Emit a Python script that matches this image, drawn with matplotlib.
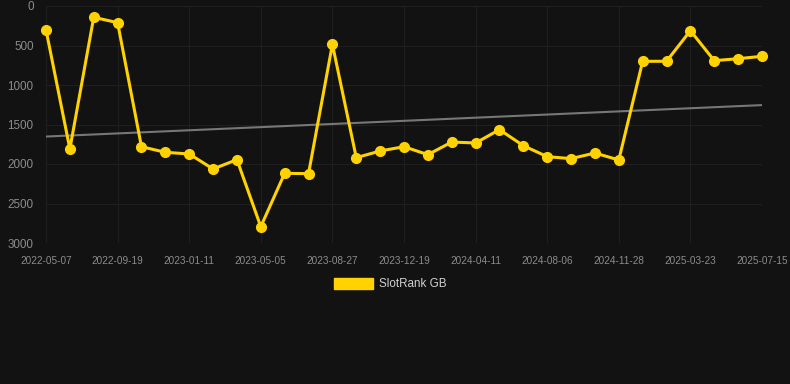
import numpy as np
import matplotlib
matplotlib.use('Agg')
import matplotlib.pyplot as plt
import matplotlib.patches as mpatches

plt.rcParams['font.family'] = ['Liberation Sans', 'DejaVu Sans']

# ranks per sample (31 samples, labels every third one)
ranks = [300, 1810, 143, 211, 1781, 1852, 1873, 2063, 1945, 2793,
         2118, 2122, 485, 1920, 1835, 1781, 1882, 1722, 1734, 1565,
         1768, 1907, 1932, 1861, 1949, 700, 700, 312, 692, 667, 637]
tick_labels = ['2022-05-07', '2022-09-19', '2023-01-11', '2023-05-05',
               '2023-08-27', '2023-12-19', '2024-04-11', '2024-08-06',
               '2024-11-28', '2025-03-23', '2025-07-15']
y_ticks = [0, 500, 1000, 1500, 2000, 2500, 3000]

bg = '#121212'
gold = '#FFD200'

x = np.arange(len(ranks))
fit = np.polyfit(x, ranks, 1)
trend = np.polyval(fit, x)

fig = plt.figure(figsize=(7.9, 3.84), dpi=100, facecolor=bg)
ax = fig.add_axes([46/790, 1-243/384, 716/790, 237/384], facecolor=bg)

ax.plot(x, trend, color='#777777', lw=1.5, zorder=2)
ax.plot(x, ranks, color=gold, lw=2.2, marker='o', ms=7, zorder=3, clip_on=False)

ax.set_xlim(0, len(ranks) - 1)
ax.set_ylim(3000, 0)
ax.set_xticks(x[::3])
ax.set_xticklabels(tick_labels)
ax.set_yticks(y_ticks)

ax.grid(True, color='#1f1f1f', lw=0.8)
ax.set_axisbelow(True)
for s in ax.spines.values():
    s.set_visible(False)
ax.tick_params(axis='x', length=0, pad=9, labelsize=7.2, labelcolor='#8c8c8c')
ax.tick_params(axis='y', length=0, pad=9, labelsize=8.4, labelcolor='#8c8c8c')

handle = mpatches.Patch(color=gold, label='SlotRank GB')
leg = fig.legend(handles=[handle], loc='center', bbox_to_anchor=(390/790, 1-284/384),
                 frameon=False, handlelength=3.4, handleheight=1.1, handletextpad=0.5,
                 fontsize=8.4)
for t in leg.get_texts():
    t.set_color('#d0d0d0')

fig.savefig('out.png', dpi=100, facecolor=bg)
